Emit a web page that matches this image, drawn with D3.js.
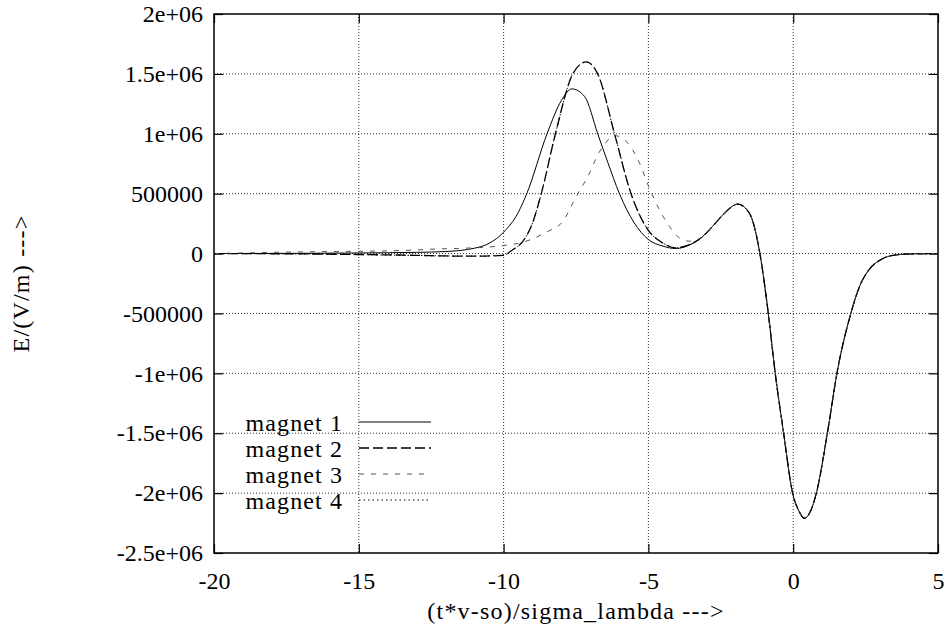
<!DOCTYPE html>
<html>
<head>
<meta charset="utf-8">
<script src="https://cdn.jsdelivr.net/npm/d3@7"></script>
<style>
  body { margin: 0; background: #fff; }
  text { font-family: "Liberation Serif", "Times New Roman", serif; fill: #000; }
</style>
</head>
<body>
<script>
// values
var xTicks = [-20, -15, -10, -5, 0, 5];
var yTicks = [2e6, 1.5e6, 1e6, 5e5, 0, -5e5, -1e6, -1.5e6, -2e6, -2.5e6];
var yTickLabels = ["2e+06", "1.5e+06", "1e+06", "500000", "0", "-500000", "-1e+06", "-1.5e+06", "-2e+06", "-2.5e+06"];
var seriesNames = ["magnet 1", "magnet 2", "magnet 3", "magnet 4"];

// common tail (all four curves lie on top of each other here)
var tailX = [-2.78, -2.4, -1.92, -1.52, -1.15, -0.86, -0.62, -0.33, -0.02, 0.2, 0.38, 0.6, 0.8, 1.18, 1.51, 1.99, 2.3, 2.62, 3.0, 3.31, 4, 5];
var tailY = [228e3, 330e3, 412e3, 340e3, 0, -5e5, -1e6, -1.5e6, -2e6, -2.15e6, -2.21e6, -2.15e6, -2e6, -1.5e6, -1e6, -5e5, -270e3, -134e3, -55e3, -22e3, -3e3, 0];

var m1X = [-20, -17, -15, -13, -12, -11, -10.5, -10, -9.5, -9.2, -8.5, -8, -7.64, -7.2, -6.75, -6.4, -6.0, -5.5, -5.0, -4.5, -4.04, -3.6, -3.18];
var m1Y = [0, 2e3, 5e3, 10e3, 17e3, 45e3, 85e3, 178e3, 340e3, 500e3, 1.0e6, 1.28e6, 1.375e6, 1.31e6, 1.0e6, 760e3, 500e3, 260e3, 117e3, 62e3, 42e3, 70e3, 131e3];

var m2X = [-20, -17, -15, -13, -12, -11, -10, -9.7, -9.33, -9.0, -8.7, -8.21, -7.61, -7.15, -6.75, -6.17, -5.6, -5.02, -4.51, -4.04, -3.6, -3.18];
var m2Y = [0, -3e3, -8e3, -15e3, -20e3, -22e3, -15e3, 30e3, 103e3, 256e3, 500e3, 1.0e6, 1.5e6, 1.6e6, 1.5e6, 1.0e6, 500e3, 200e3, 89e3, 48e3, 72e3, 131e3];

var m3X = [-20, -17, -13.6, -12.2, -11.3, -10, -9.33, -8.53, -7.95, -7.55, -7.03, -6.71, -6.52, -6.17, -5.77, -5.31, -4.97, -4.62, -4.28, -3.93, -3.59, -3.18];
var m3Y = [0, 14e3, 25e3, 39e3, 45e3, 67e3, 95e3, 178e3, 270e3, 450e3, 674e3, 841e3, 910e3, 985e3, 938e3, 757e3, 548e3, 367e3, 228e3, 131e3, 103e3, 131e3];

var m4X = [-20, -17, -15, -13, -12, -11, -10, -9.7, -9.33, -9.0, -8.7, -8.21, -7.61, -7.15, -6.75, -6.17, -5.6, -5.02, -4.51, -4.04, -3.6, -3.18];
var m4Y = [0, -3e3, -9e3, -16e3, -20e3, -21e3, -14e3, 30e3, 103e3, 256e3, 500e3, 1.0e6, 1.5e6, 1.6e6, 1.5e6, 1.0e6, 500e3, 200e3, 89e3, 48e3, 72e3, 131e3];

var width = 947, height = 640;
var margin = {left: 214, right: 9, top: 14, bottom: 87};
var fontSize = "24px";

var svg = d3.select("body").append("svg")
  .attr("width", width)
  .attr("height", height);

var x = d3.scaleLinear().domain([-20, 5]).range([margin.left, width - margin.right]);
var y = d3.scaleLinear().domain([-2.5e6, 2e6]).range([height - margin.bottom, margin.top]);

// dotted grid
var grid = svg.append("g").attr("class", "grid")
  .attr("stroke", "#333").attr("stroke-width", 1).attr("stroke-dasharray", "1,2");
grid.selectAll("line.gx").data(xTicks.slice(1, -1)).enter().append("line")
  .attr("x1", d => x(d)).attr("x2", d => x(d))
  .attr("y1", y(2e6)).attr("y2", y(-2.5e6));
grid.selectAll("line.gy").data(yTicks.slice(1, -1)).enter().append("line")
  .attr("x1", x(-20)).attr("x2", x(5))
  .attr("y1", d => y(d)).attr("y2", d => y(d));

// axes with inward ticks, mirrored on top/right
var tl = 9;
svg.append("g").attr("transform", "translate(0," + y(-2.5e6) + ")")
  .call(d3.axisBottom(x).tickValues(xTicks).tickSize(-tl).tickPadding(19)
    .tickFormat(d => String(d)))
  .call(g => g.select(".domain").remove());
svg.append("g").attr("transform", "translate(0," + y(2e6) + ")")
  .call(d3.axisTop(x).tickValues(xTicks).tickSize(-tl).tickFormat(""))
  .call(g => g.select(".domain").remove());
svg.append("g").attr("transform", "translate(" + x(-20) + ",0)")
  .call(d3.axisLeft(y).tickValues(yTicks).tickSize(-tl).tickPadding(11)
    .tickFormat((d, i) => yTickLabels[i]))
  .call(g => g.select(".domain").remove());
svg.append("g").attr("transform", "translate(" + x(5) + ",0)")
  .call(d3.axisRight(y).tickValues(yTicks).tickSize(-tl).tickFormat(""))
  .call(g => g.select(".domain").remove());

svg.selectAll(".tick line").attr("stroke", "#000").attr("stroke-width", 1.2);
svg.selectAll(".tick text")
  .style("font-family", '"Liberation Serif", serif')
  .style("font-size", fontSize)
  .attr("fill", "#000");

// frame
svg.append("rect")
  .attr("x", x(-20)).attr("y", y(2e6))
  .attr("width", x(5) - x(-20)).attr("height", y(-2.5e6) - y(2e6))
  .attr("fill", "none").attr("stroke", "#000").attr("stroke-width", 1.5);

// curves
var styles = [
  {dash: null, w: 1, c: "#000"},
  {dash: "10,4", w: 1.3, c: "#000"},
  {dash: "5,7", w: 1, c: "#555"},
  {dash: "1.5,3", w: 1, c: "#000"}
];
var allX = [m1X, m2X, m3X, m4X];
var allY = [m1Y, m2Y, m3Y, m4Y];
var data = allX.map(function (xs, i) {
  var pts = xs.map((v, j) => [v, allY[i][j]]);
  tailX.forEach((v, j) => pts.push([v, tailY[j]]));
  return pts;
});

var line = d3.line()
  .x(d => x(d[0])).y(d => y(d[1]))
  .curve(d3.curveMonotoneX);

svg.append("g").attr("class", "lines")
  .selectAll("path").data(data).enter().append("path")
  .attr("d", line)
  .attr("fill", "none")
  .attr("stroke", (d, i) => styles[i].c)
  .attr("stroke-width", (d, i) => styles[i].w)
  .attr("stroke-dasharray", (d, i) => styles[i].dash);

// key
var key = svg.append("g").attr("class", "key");
var keyRow = d3.scaleLinear().domain([0, 3]).range([422, 500]);
key.selectAll("text").data(seriesNames).enter().append("text")
  .attr("x", 343).attr("y", (d, i) => keyRow(i))
  .attr("dy", "0.36em")
  .attr("text-anchor", "end")
  .style("font-size", fontSize)
  .style("letter-spacing", "1.1px")
  .text(d => d);
key.selectAll("line").data(seriesNames).enter().append("line")
  .attr("x1", 359).attr("x2", 431)
  .attr("y1", (d, i) => keyRow(i)).attr("y2", (d, i) => keyRow(i))
  .attr("stroke", (d, i) => styles[i].c)
  .attr("stroke-width", (d, i) => styles[i].w)
  .attr("stroke-dasharray", (d, i) => styles[i].dash);

// axis titles
svg.append("text")
  .attr("x", x(-7.5)).attr("y", 619)
  .attr("text-anchor", "middle")
  .style("font-size", fontSize)
  .style("letter-spacing", "1.2px")
  .text("(t*v-so)/sigma_lambda --->");
svg.append("text")
  .attr("transform", "translate(29," + y(-0.25e6) + ") rotate(-90)")
  .attr("text-anchor", "middle")
  .style("font-size", fontSize)
  .style("letter-spacing", "1.2px")
  .text("E/(V/m) --->");
</script>
</body>
</html>
